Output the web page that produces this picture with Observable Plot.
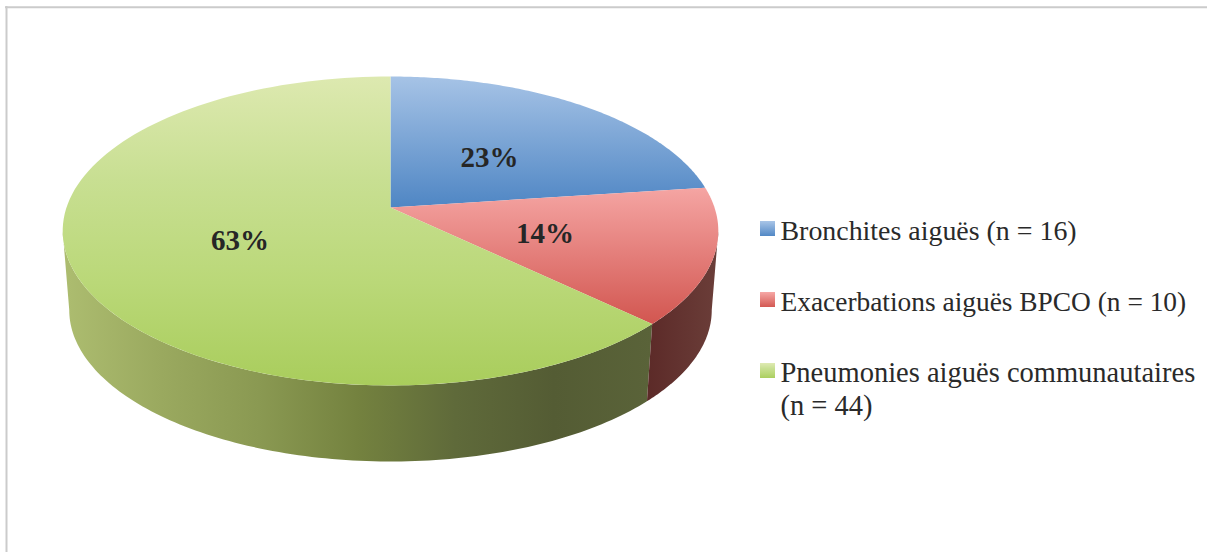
<!DOCTYPE html>
<html><head><meta charset="utf-8">
<style>html,body{margin:0;padding:0;background:#fff;overflow:hidden}</style>
<script src="https://cdn.jsdelivr.net/npm/d3@7"></script>
<script src="https://cdn.jsdelivr.net/npm/@observablehq/plot@0.6"></script>
</head><body><script>
const categories = ["Bronchites aiguës (n = 16)", "Exacerbations aiguës BPCO (n = 10)", "Pneumonies aiguës communautaires"];
const legendExtra = ["", "", "(n = 44)"];
const counts = [16, 10, 44];
const percentLabels = ["23%", "14%", "63%"];
const topStops = [["#a6c3e6", "#4f86c4"], ["#f5a5a3", "#d25650"], ["#dde9b0", "#c8df92", "#bad878", "#a9cd5c"]];
const wallStops = [["#3f6690", "#3f6690"], ["#5c2a28", "#6b3e39"], ["#adbd70", "#9aa95f", "#8a9952", "#74823f", "#5f6a3a", "#545c34", "#5a6339"]];
const legendSizes = [27.9, 27.4, 28.5];
const W = 1207, H = 552;

// perspective pie model
const cx = 390, apexY = 207, a = 324, b = 150.9, k = 0.152;
function project(theta, r = 1, level = 0) {
  const u = Math.sin(theta) * r, v = Math.cos(theta) * r, w = 1 + k * v;
  const s = level ? 0.98 : 1, dy = level ? 79.6 : 0;
  return {x: cx + s * a * u / w, y: apexY + dy - s * b * v / w};
}
const total = d3.sum(counts);
let acc = 0;
const slices = counts.map((c, i) => {
  const start = acc / total * 2 * Math.PI; acc += c;
  return {i, start, end: acc / total * 2 * Math.PI};
});
// the wall is only visible between the two silhouette tangents of the disc
const tanA = Math.PI / 2 + Math.asin(k), tanB = 1.5 * Math.PI - Math.asin(k);
const arc = (s, e, level) => d3.range(0, 121).map(j => project(s + (e - s) * j / 120, 1, level));
const topPoly = s => [project(0, 0), ...arc(s.start, s.end, 0)];
const wallPoly = s => {
  const st = Math.max(s.start, tanA), e = Math.min(s.end, tanB);
  return [...arc(st, e, 0), ...arc(st, e, 1).reverse()];
};

const legendY = [230.5, 301.5, 372.5];
const lineGap = 33;

function defs() {
  const g = d3.create("svg:g");
  const d = g.append("defs");
  const addGrad = (id, stops, x1, y1, x2, y2) => {
    const lg = d.append("linearGradient").attr("id", id).attr("gradientUnits", "userSpaceOnUse")
      .attr("x1", x1).attr("y1", y1).attr("x2", x2).attr("y2", y2);
    stops.forEach((c, i) => lg.append("stop").attr("offset", i / (stops.length - 1)).attr("stop-color", c));
  };
  slices.forEach(s => {
    const ys = topPoly(s).map(p => p.y);
    addGrad("top" + s.i, topStops[s.i], 0, d3.min(ys), 0, d3.max(ys));
    if (s.i > 0) {
      const xs = wallPoly(s).map(p => p.x);
      addGrad("wall" + s.i, wallStops[s.i], d3.min(xs), 0, d3.max(xs), 0);
    }
    addGrad("sw" + s.i, topStops[s.i], 0, legendY[s.i] - 9, 0, legendY[s.i] + 6);
  });
  return g.node();
}

const marks = [
  defs,
  Plot.ruleY([6.7], {stroke: "#cbcbcb", strokeWidth: 2, x1: 5, x2: W}),
  Plot.ruleX([6], {stroke: "#cbcbcb", strokeWidth: 2, y1: 6, y2: H}),
];
[2, 1].forEach(i => marks.push(Plot.line(wallPoly(slices[i]), {x: "x", y: "y", fill: `url(#wall${i})`, stroke: "none"})));
slices.forEach(s => marks.push(Plot.line(topPoly(s), {x: "x", y: "y", fill: `url(#top${s.i})`, stroke: "none"})));

const labelData = slices.map(s => {
  const p = project((s.start + s.end) / 2, 0.49, 0);
  return {x: p.x, y: p.y + 3, t: percentLabels[s.i]};
});
marks.push(Plot.text(labelData, {x: "x", y: "y", text: "t", fontSize: 29, fontWeight: "bold", fill: "#262626", textAnchor: "middle"}));

const legend = categories.map((t, i) => ({t, i, y: legendY[i], size: legendSizes[i]}));
legend.forEach(l => marks.push(Plot.rect([l], {x1: () => 760, x2: () => 775, y1: d => d.y - 9.5, y2: d => d.y + 5.5, fill: `url(#sw${l.i})`, inset: 0})));
legend.forEach(l => marks.push(Plot.text([l], {x: () => 780, y: "y", text: "t", textAnchor: "start", fontSize: l.size, fill: "#2a2a2a"})));
marks.push(Plot.text(legendExtra.map((t, i) => ({t, y: legendY[i] + lineGap})).filter(d => d.t), {x: () => 780, y: "y", text: "t", textAnchor: "start", fontSize: legendSizes[2], fill: "#2a2a2a"}));

const chart = Plot.plot({
  width: W, height: H, margin: 0,
  x: {type: "linear", domain: [0, W], range: [0, W], axis: null},
  y: {type: "linear", domain: [0, H], range: [0, H], axis: null},
  style: {fontFamily: "'Liberation Serif', serif", background: "#fff", display: "block", maxWidth: "none"},
  marks
});
document.body.appendChild(chart);
</script></body></html>
